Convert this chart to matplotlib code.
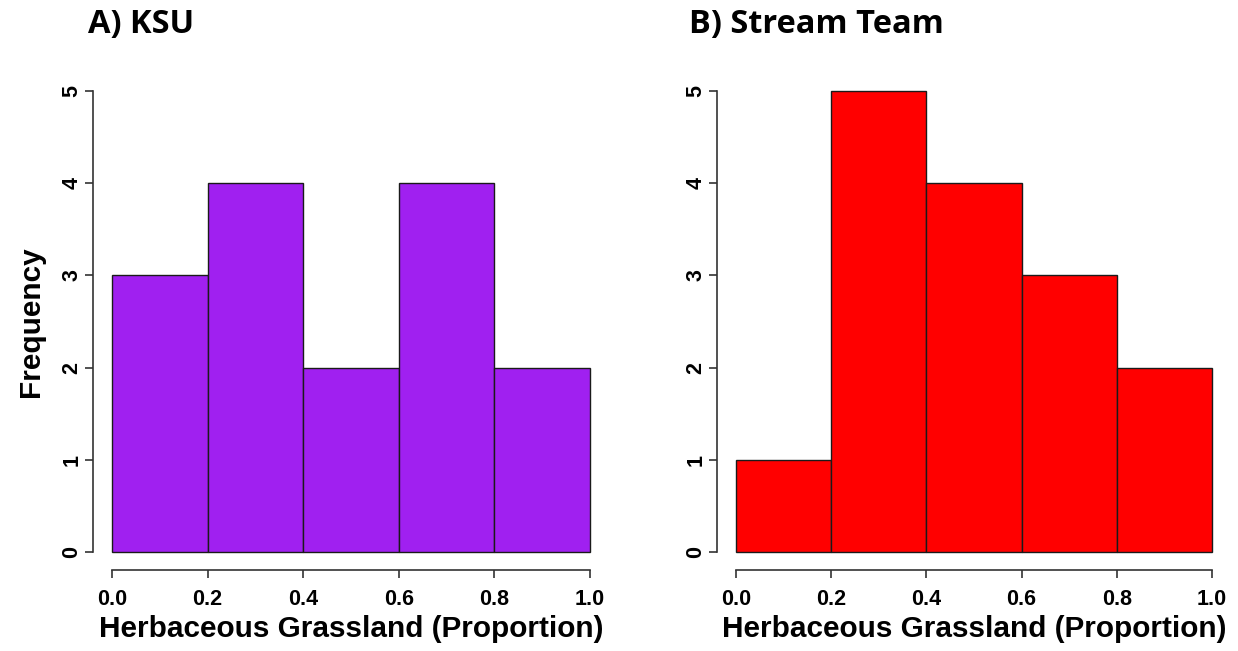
import matplotlib
matplotlib.use("Agg")
import matplotlib.pyplot as plt
import numpy as np

bin_edges = [0.0, 0.2, 0.4, 0.6, 0.8, 1.0]
ksu_counts = [3, 4, 2, 4, 2]
stream_counts = [1, 5, 4, 3, 2]
x_ticks = [0.0, 0.2, 0.4, 0.6, 0.8, 1.0]
x_tick_labels = ["0.0", "0.2", "0.4", "0.6", "0.8", "1.0"]
y_ticks = [0, 1, 2, 3, 4, 5]
titles = ["A) KSU", "B) Stream Team"]
colors = ["#A020F0", "#FF0000"]
xlabel = "Herbaceous Grassland (Proportion)"
ylabel = "Frequency"

W, H = 1238, 651
fig = plt.figure(figsize=(W / 100, H / 100), dpi=100)

panels = [
    (ksu_counts, [93 / W, (H - 570) / H, 516 / W, 497 / H], True, 88),
    (stream_counts, [717 / W, (H - 570) / H, 514 / W, 497 / H], False, 689),
]

tick_font = dict(family="Liberation Sans", weight="bold", size=15.5)
label_font = dict(family="Liberation Sans", weight="bold", size=21.4)

for i, (counts, rect, show_ylabel, title_x) in enumerate(panels):
    ax = fig.add_axes(rect)
    edges = np.array(bin_edges)
    widths = np.diff(edges)
    ax.bar(edges[:-1], counts, width=widths, align="edge",
           color=colors[i], edgecolor="#1a1a1a", linewidth=1.0)
    ax.set_xlim(-0.04, 1.04)
    ax.set_ylim(-0.2, 5.2)
    for s in ["top", "right"]:
        ax.spines[s].set_visible(False)
    ax.spines["left"].set_bounds(0, 5)
    ax.spines["bottom"].set_bounds(0, 1)
    for s in ["left", "bottom"]:
        ax.spines[s].set_color("#333333")
        ax.spines[s].set_linewidth(1.2)
    ax.set_xticks(x_ticks)
    ax.set_xticklabels(x_tick_labels, **tick_font)
    ax.set_yticks(y_ticks)
    ax.set_yticklabels([str(v) for v in y_ticks], rotation=90, va="center", **tick_font)
    ax.tick_params(axis="both", length=6, width=1.2, color="#333333")
    ax.tick_params(axis="x", pad=8)
    ax.tick_params(axis="y", pad=1.5)
    ax.set_xlabel(xlabel, labelpad=3, **label_font)
    if show_ylabel:
        ax.set_ylabel(ylabel, labelpad=12, **label_font)
    fig.text(title_x / W, 1 - 24 / H, titles[i], ha="left", va="center",
             family="Open Sans", weight="bold", size=23.5)

fig.savefig("out.png", dpi=100)
